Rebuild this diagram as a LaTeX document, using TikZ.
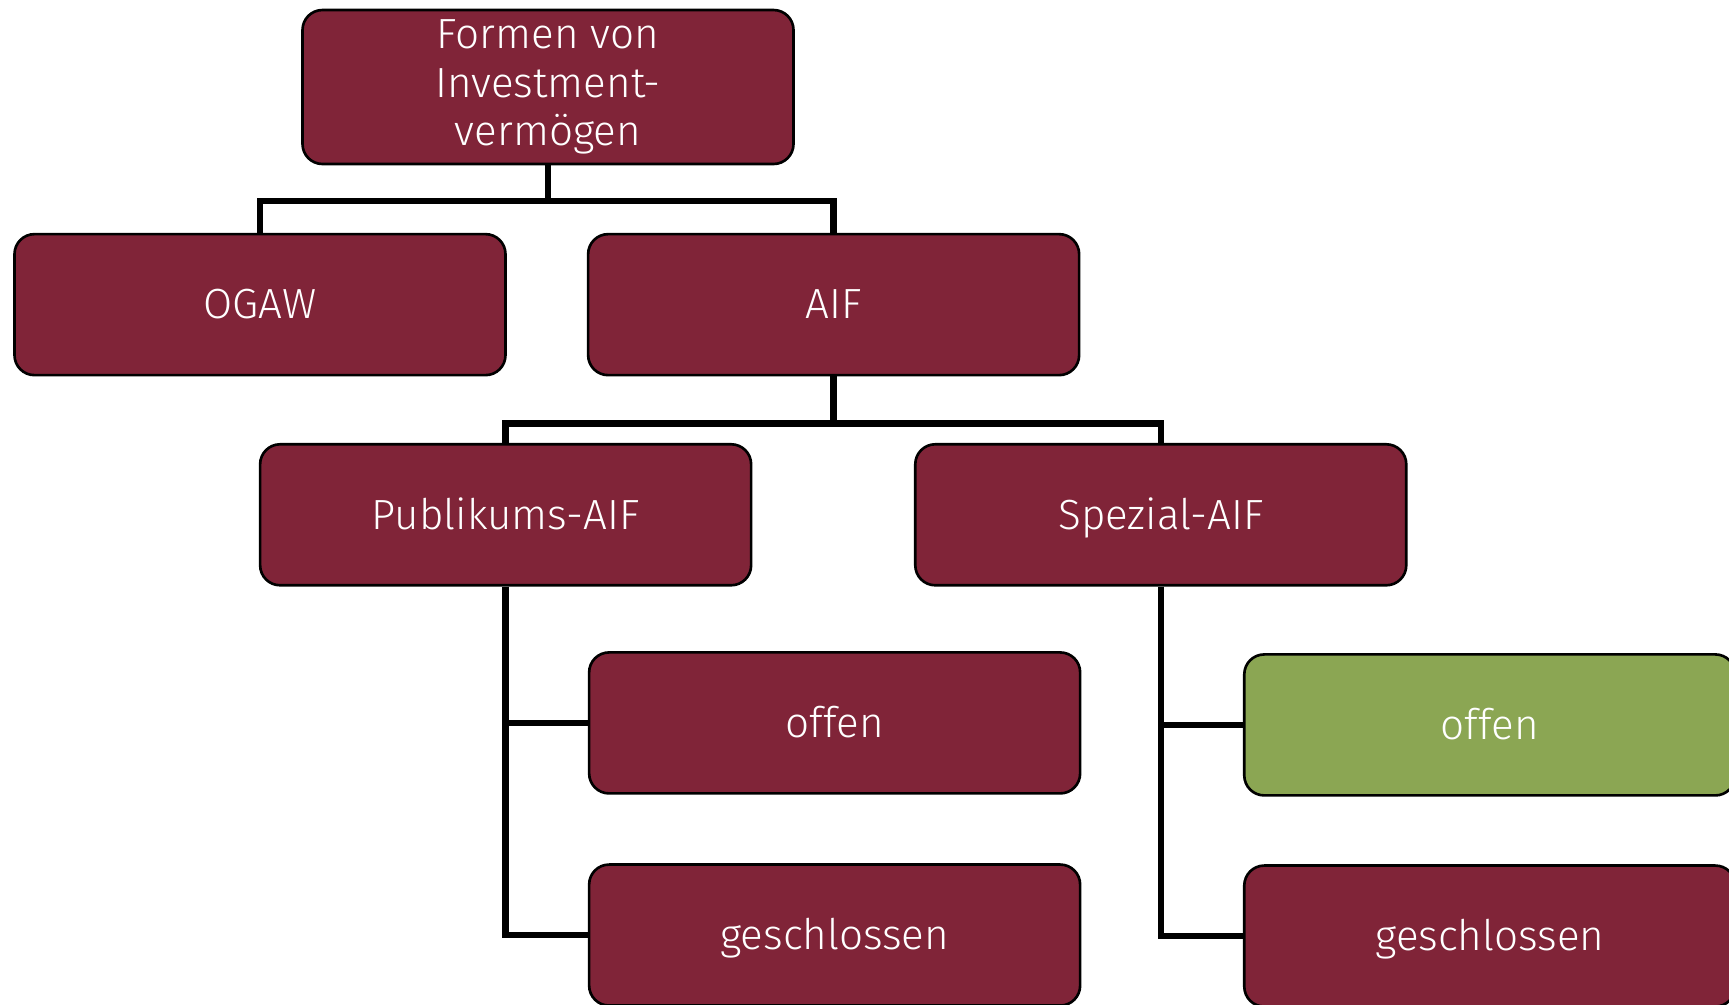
\documentclass[tikz,border=0pt]{standalone}
\usepackage{fontspec}
\setmainfont{Fira Sans Light}
\usetikzlibrary{positioning}
\definecolor{cwine}{RGB}{128,36,56}
\definecolor{cgreen}{RGB}{139,166,83}

\begin{document}
\begin{tikzpicture}[
    box/.style={draw=black, line width=0.75pt, rounded corners=0.2cm, minimum width=4.91cm, minimum height=1.41cm, align=center, text=white, text height=2.0ex, text depth=0.45ex, font=\fontsize{12}{13.9}\selectfont, fill=#1},
    box/.default=cwine,
    conn/.style={line width=1.8pt}
]
\useasboundingbox (0,0) rectangle (17.29,-10.04);
\clip (0,0) rectangle (17.29,-10.04);

\node[box, text height={}, text depth={}, minimum height=1.54cm, inner ysep=0.05cm] (form) at (5.48,-0.87) {Formen von\\Investment-\\vermögen};
\node[box, below=0.675cm of form, xshift=-2.88cm] (ogaw) {OGAW};
\node[box, right=0.80cm of ogaw] (aif) {AIF};
\node[box, below=0.665cm of aif, xshift=-3.28cm] (pub) {Publikums-AIF};
\node[box, right=1.615cm of pub] (spez) {Spezial-AIF};
\node[box, below=0.645cm of pub, xshift=3.29cm] (pubof) {offen};
\node[box, below=0.685cm of pubof] (pubge) {geschlossen};
\node[box=cgreen, below=0.665cm of spez, xshift=3.29cm] (spezof) {offen};
\node[box, below=0.675cm of spezof] (spezge) {geschlossen};

\draw[conn] (form.south) -- ++(0,-0.36) -| (ogaw.north);
\draw[conn] (form.south) -- ++(0,-0.36) -| (aif.north);
\draw[conn] (aif.south) -- ++(0,-0.47) -| (pub.north);
\draw[conn] (aif.south) -- ++(0,-0.47) -| (spez.north);
\draw[conn] (pub.south) |- (pubof.west);
\draw[conn] (pub.south) |- (pubge.west);
\draw[conn] (spez.south) |- (spezof.west);
\draw[conn] (spez.south) |- (spezge.west);

\end{tikzpicture}
\end{document}
